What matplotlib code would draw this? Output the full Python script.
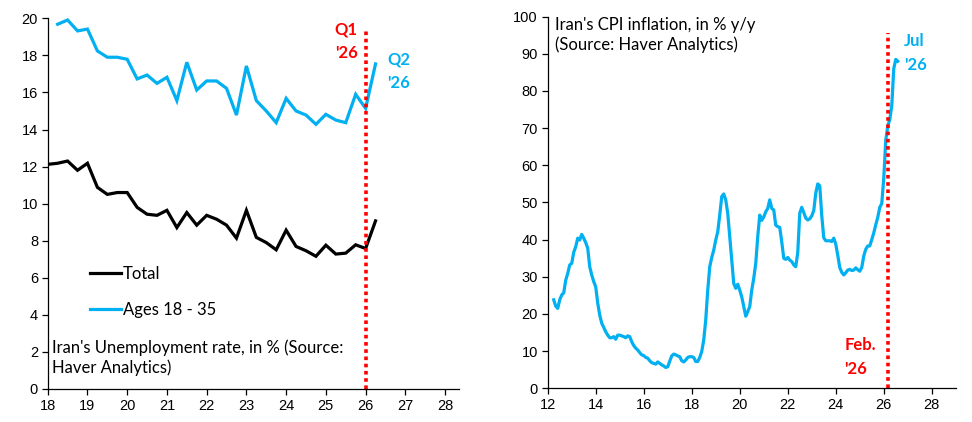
import numpy as np
import pandas as pd
import matplotlib
matplotlib.use("Agg")
import matplotlib.pyplot as plt

# ---------------- data ----------------
# Unemployment (quarterly, from 2018Q1)
unemp_total = [12.12, 12.18, 12.30, 11.8, 12.18, 10.88, 10.5, 10.6, 10.6, 9.8,
               9.43, 9.37, 9.64, 8.71, 9.52, 8.84, 9.37, 9.16, 8.84, 8.14,
               9.64, 8.18, 7.9, 7.51, 8.57, 7.69, 7.46, 7.16, 7.76, 7.28,
               7.33, 7.78, 7.58, 9.07]
unemp_youth = [np.nan, 19.68, 19.91, 19.32, 19.42, 18.24, 17.9, 17.9, 17.79, 16.73,
               16.94, 16.49, 16.82, 15.56, 17.63, 16.13, 16.62, 16.62, 16.22, 14.78,
               17.43, 15.56, 15.0, 14.37, 15.68, 15.0, 14.78, 14.28, 14.82, 14.51,
               14.37, 15.9, 15.14, 17.54]
unemp_start = "2018-01-01"

# CPI inflation (monthly, from Mar 2012)
cpi = [23.8, 22.1, 21.5, 23.8, 25.1, 25.7, 29.1, 30.9, 33.2, 33.6,
       36.6, 38.1, 40.4, 39.9, 41.4, 40.4, 39.2, 37.7, 32.7, 30.5,
       28.7, 27.3, 22.9, 19.7, 17.5, 16.4, 15.2, 14.3, 13.6, 13.6,
       13.9, 13.2, 14.3, 14.3, 14.1, 13.9, 13.6, 14.1, 13.9, 12.5,
       11.5, 10.8, 10.3, 9.6, 9.0, 8.8, 8.3, 8.1, 7.4, 6.9,
       6.7, 6.5, 7.1, 6.7, 6.3, 6.0, 5.6, 5.8, 7.3, 8.7,
       9.2, 9.0, 8.7, 8.5, 7.4, 7.1, 7.6, 8.3, 8.5, 8.5,
       8.3, 7.2, 7.2, 8.3, 9.9, 13.0, 18.4, 26.4, 32.7, 35.2,
       37.2, 39.9, 42.1, 46.6, 51.6, 52.3, 50.7, 47.1, 40.8, 34.5,
       28.2, 26.9, 28.0, 26.4, 24.6, 22.0, 19.4, 20.6, 22.0, 26.4,
       29.6, 33.6, 40.8, 46.6, 45.2, 46.1, 47.5, 48.4, 50.7, 48.4,
       48.0, 43.9, 43.5, 43.3, 39.4, 35.0, 34.7, 35.2, 34.5, 34.1,
       33.2, 32.7, 36.5, 47.1, 48.7, 47.3, 45.8, 45.3, 45.6, 46.4,
       47.8, 52.5, 55.0, 54.5, 46.5, 40.5, 39.7, 39.7, 39.7, 39.5,
       40.4, 38.8, 35.8, 32.5, 31.2, 30.5, 31.1, 31.8, 32.0, 31.7,
       31.8, 32.4, 31.9, 31.5, 32.5, 35.6, 37.4, 38.3, 38.3, 40.0,
       41.8, 44.0, 46.0, 48.7, 49.7, 56.5, 66.8, 70.6, 72.3, 76.0,
       86.0, 88.5, 88.0]
cpi_start = "2012-03-31"

left_xticks = list(range(18, 29))
left_yticks = list(range(0, 21, 2))
right_xticks = list(range(12, 29, 2))
right_yticks = list(range(0, 101, 10))
q1_26 = 26.0
feb_26 = 26 + 2 / 12

# -------------- positions ---------------
qd = pd.date_range(unemp_start, periods=len(unemp_total), freq="QS")
xq = (qd.year - 2000) + (qd.month - 1) / 12.0
md = pd.date_range(cpi_start, periods=len(cpi), freq="ME")
xm = (md.year - 2000) + md.month / 12.0

BLUE = "#00B0F0"
RED = "#FF0000"
TXT = "Lato"
TICK = "Liberation Sans"
FS = 12

fig = plt.figure(figsize=(9.72, 4.22), dpi=100)
ax1 = fig.add_axes([0.0491, 0.0782, 0.4231, 0.8784])
ax2 = fig.add_axes([0.5635, 0.0799, 0.4198, 0.8806])

for ax in (ax1, ax2):
    for s in ("top", "right"):
        ax.spines[s].set_visible(False)
    for s in ("left", "bottom"):
        ax.spines[s].set_linewidth(0.9)
        ax.spines[s].set_color("black")
    ax.tick_params(direction="out", length=4, width=0.9, labelsize=10.5, pad=3)

# ---- left ----
ax1.plot(xq, unemp_total, color="black", lw=2.3, label="Total", solid_joinstyle="miter")
ax1.plot(xq, unemp_youth, color=BLUE, lw=2.3, label="Ages 18 - 35", solid_joinstyle="miter")
ax1.plot([q1_26, q1_26], [0, 19.3], color=RED, lw=2.6, ls=(0, (1, 1)))
ax1.set_xlim(18, 28.35)
ax1.set_ylim(0, 20)
ax1.set_xticks(left_xticks)
ax1.set_yticks(left_yticks)
ax1.set_xticklabels([str(v) for v in left_xticks], fontfamily=TICK)
ax1.set_yticklabels([str(v) for v in left_yticks], fontfamily=TICK)
leg = ax1.legend(loc="center left", bbox_to_anchor=(0.103, 0.262), frameon=False,
                 borderpad=0, borderaxespad=0, handlelength=1.85, handletextpad=0.1,
                 labelspacing=1.2, prop={"family": TXT, "size": FS})
ax1.text(0.01, 0.035, "Iran's Unemployment rate, in % (Source:\nHaver Analytics)",
         transform=ax1.transAxes, family=TXT, fontsize=FS, va="bottom", ha="left",
         linespacing=1.25)
ax1.text(25.8, 19.85, "Q1\n'26", color=RED, fontweight="bold", family=TXT, fontsize=12,
         ha="right", va="top", linespacing=1.6)
ax1.text(26.55, 18.2, "Q2\n'26", color=BLUE, fontweight="bold", family=TXT, fontsize=12,
         ha="left", va="top", linespacing=1.6)

# ---- right ----
ax2.plot(xm, cpi, color=BLUE, lw=2.3)
ax2.plot([feb_26, feb_26], [0, 95.5], color=RED, lw=2.6, ls=(0, (1, 1)))
ax2.set_xlim(12, 29)
ax2.set_ylim(0, 100)
ax2.set_xticks(right_xticks)
ax2.set_yticks(right_yticks)
ax2.set_xticklabels([str(v) for v in right_xticks], fontfamily=TICK)
ax2.set_yticklabels([str(v) for v in right_yticks], fontfamily=TICK)
ax2.text(0.018, 1.0, "Iran's CPI inflation, in % y/y\n(Source: Haver Analytics)",
         transform=ax2.transAxes, family=TXT, fontsize=FS, va="top", ha="left",
         linespacing=1.25)
ax2.text(26.85, 95.5, "Jul\n'26", color=BLUE, fontweight="bold", family=TXT, fontsize=12,
         ha="left", va="top", linespacing=1.6)
ax2.text(24.35, 13.8, "Feb.\n'26", color=RED, fontweight="bold", family=TXT, fontsize=12,
         ha="left", va="top", linespacing=1.6)

fig.savefig("out.png", dpi=100)
